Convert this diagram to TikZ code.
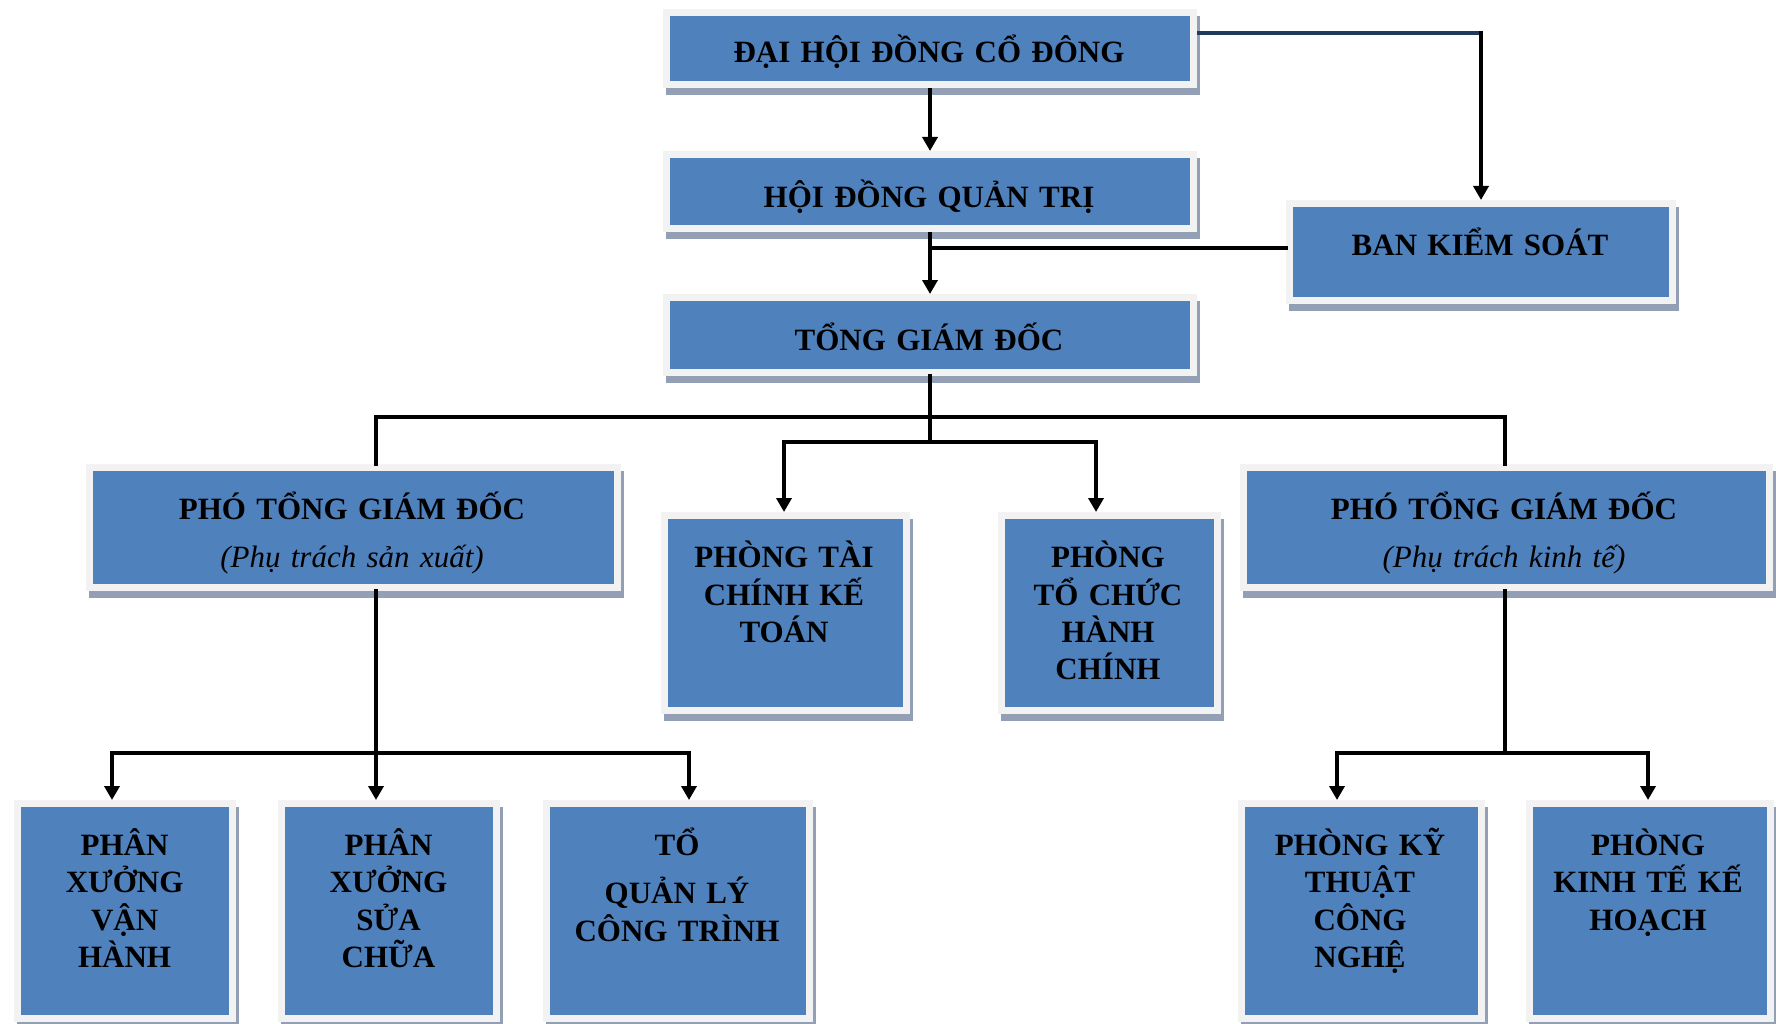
\documentclass[tikz,border=0pt]{standalone}
\usepackage{fontspec}
\setmainfont{Liberation Serif}
\usetikzlibrary{arrows.meta,shadows}
\definecolor{boxblue}{HTML}{4F81BD}
\definecolor{framegray}{HTML}{F2F2F2}
\definecolor{shadowc}{HTML}{929FB4}
\definecolor{navyline}{HTML}{1F3A5F}
\tikzset{
  orgbox/.style={fill=boxblue, draw=framegray, line width=7pt, inner sep=0pt,
    drop shadow={shadow xshift=3pt, shadow yshift=-7pt, fill=shadowc, draw=shadowc, line width=7pt, opacity=1}},
  txt/.style={anchor=base, text width=420pt, align=center, inner sep=0pt,
    font=\fontsize{31}{37.4}\selectfont\bfseries},
  conn/.style={line width=3.5pt, draw=black, line cap=rect},
  arr/.style={line width=3.5pt, draw=black, -{Triangle[length=14pt,width=15pt]}},
}
\begin{document}
\begin{tikzpicture}[x=1pt,y=-1pt]
\useasboundingbox (0,0) rectangle (1776,1024);
\fill[white] (0,0) rectangle (1776,1024);
% boxes
\node[orgbox, minimum width=527pt, minimum height=72pt] (dhcd) at (930,48.5) {};
\node[orgbox, minimum width=527pt, minimum height=74pt] (hdqt) at (930,191.5) {};
\node[orgbox, minimum width=383pt, minimum height=97pt] (bks) at (1481,252) {};
\node[orgbox, minimum width=527pt, minimum height=75pt] (tgd) at (930,335) {};
\node[orgbox, minimum width=528pt, minimum height=120pt] (pho1) at (353.5,527.5) {};
\node[orgbox, minimum width=526pt, minimum height=120pt] (pho2) at (1506.5,527.5) {};
\node[orgbox, minimum width=242pt, minimum height=195pt] (ptckt) at (785.5,613) {};
\node[orgbox, minimum width=216pt, minimum height=195pt] (ptchc) at (1109.5,613) {};
\node[orgbox, minimum width=215pt, minimum height=215pt] (px1) at (125,911) {};
\node[orgbox, minimum width=215pt, minimum height=215pt] (px2) at (389,911) {};
\node[orgbox, minimum width=263pt, minimum height=215pt] (toql) at (678,911) {};
\node[orgbox, minimum width=240pt, minimum height=215pt] (pkt) at (1361.5,911) {};
\node[orgbox, minimum width=241pt, minimum height=215pt] (pkh) at (1650,911) {};
% texts
\node[txt] (t1) at (929,62.4) {ĐẠI HỘI ĐỒNG CỔ ĐÔNG};
\node[txt] (t2) at (929,207.4) {HỘI ĐỒNG QUẢN TRỊ};
\node[txt] (t3) at (1480,255) {BAN KIỂM SOÁT};
\node[txt] (t4) at (929,350) {TỔNG GIÁM ĐỐC};
\node[txt] (t5) at (352,519) {PHÓ TỔNG GIÁM ĐỐC\\[11pt]{\mdseries\itshape (Phụ trách sản xuất)}};
\node[txt] (t6) at (1504,519) {PHÓ TỔNG GIÁM ĐỐC\\[11pt]{\mdseries\itshape (Phụ trách kinh tế)}};
\node[txt] (t7) at (784,567.6) {PHÒNG TÀI\\CHÍNH KẾ\\TOÁN};
\node[txt] (t8) at (1108,567.6) {PHÒNG\\TỔ CHỨC\\HÀNH\\CHÍNH};
\node[txt] (t9) at (124.6,855.3) {PHÂN\\XƯỞNG\\VẬN\\HÀNH};
\node[txt] (t10) at (388.5,855.3) {PHÂN\\XƯỞNG\\SỬA\\CHỮA};
\node[txt] (t11) at (677,855.3) {TỔ\\[11.2pt]QUẢN LÝ\\CÔNG TRÌNH};
\node[txt] (t12) at (1360,855.3) {PHÒNG KỸ\\THUẬT\\CÔNG\\NGHỆ};
\node[txt] (t13) at (1648,855.3) {PHÒNG\\KINH TẾ KẾ\\HOẠCH};
% connectors
\draw[arr] (dhcd.south) -- (hdqt.north);
\coordinate (c1) at ([yshift=15.5pt]dhcd.east);
\coordinate (c2) at (c1 -| bks.north);
\draw[conn, draw=navyline, line cap=butt] (c1) -- (c2);
\draw[arr] ([yshift=1.75pt]c2) -- (bks.north);
\draw[arr] (hdqt.south) -- (tgd.north);
\coordinate (b1) at ([yshift=4pt]bks.west);
\coordinate (b2) at (b1 -| hdqt.south);
\draw[conn] (b1) -- (b2);
% TGD tree
\coordinate (j2) at (930,442);
\coordinate (p1top) at (376,417);
\coordinate (p2top) at (1505,417);
\draw[conn] (tgd.south) -- (j2);
\draw[conn] (p1top) -- (p2top);
\draw[conn] (p1top) -- (p1top |- pho1.north);
\draw[conn] (p2top) -- (p2top |- pho2.north);
\coordinate (k1) at (784,442);
\coordinate (k2) at (1096,442);
\draw[conn] (k1) -- (k2);
\draw[arr] (k1) -- (k1 |- ptckt.north);
\draw[arr] (k2) -- (k2 |- ptchc.north);
% left branch
\coordinate (m0) at (376,753);
\coordinate (m1) at (112,753);
\coordinate (m3) at (689,753);
\draw[conn] (p1top |- pho1.south) -- (m0);
\draw[conn] (m1) -- (m3);
\draw[arr] (m1) -- (m1 |- px1.north);
\draw[arr] (m0) -- (m0 |- px2.north);
\draw[arr] (m3) -- (m3 |- toql.north);
% right branch
\coordinate (n0) at (1505,753);
\coordinate (n1) at (1337,753);
\coordinate (n2) at (1648,753);
\draw[conn] (p2top |- pho2.south) -- (n0);
\draw[conn] (n1) -- (n2);
\draw[arr] (n1) -- (n1 |- pkt.north);
\draw[arr] (n2) -- (n2 |- pkh.north);
\end{tikzpicture}
\end{document}
